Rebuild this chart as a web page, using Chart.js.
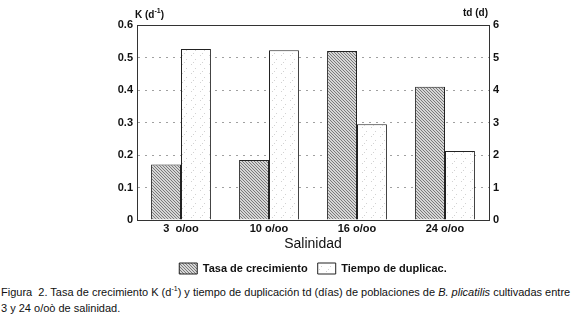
<!DOCTYPE html>
<html>
<head>
<meta charset="utf-8">
<script src="https://cdn.jsdelivr.net/npm/chart.js@4/dist/chart.umd.min.js"></script>
<style>
  body { margin: 0; background: #fff; width: 580px; height: 320px; position: relative; overflow: hidden; }
  #wrap { position: absolute; left: 0; top: 0; width: 580px; height: 284px; }
  #caption { position: absolute; left: 1px; top: 284px; width: 578px; font: 11px 'Liberation Sans', Arial, sans-serif; line-height: 16px; color: #111; white-space: nowrap; }
  #caption sup { font-size: 7px; line-height: 0; }
</style>
</head>
<body>
<div id="wrap"><canvas id="chart" width="580" height="284"></canvas></div>
<div id="caption">Figura&nbsp; 2. Tasa de crecimiento K (d<sup>-1</sup>) y tiempo de duplicación td (días) de poblaciones de <i>B. plicatilis</i> cultivadas entre<br>3 y 24 o/oò de salinidad.</div>
<script>
const salinities = ['3  o/oo', '10 o/oo', '16 o/oo', '24 o/oo'];
const growthRate = [0.171, 0.185, 0.52, 0.41];
const doublingTime = [5.26, 5.22, 2.95, 2.12];
const kTicks = ['0', '0.1', '0.2', '0.3', '0.4', '0.5', '0.6'];
const tdTicks = ['0', '1', '2', '3', '4', '5', '6'];

const FONT = "'Liberation Sans', Arial, sans-serif";

function hatchPattern() {
  const c = document.createElement('canvas');
  c.width = 3; c.height = 3;
  const g = c.getContext('2d');
  g.fillStyle = '#d6d6d6';
  g.fillRect(0, 0, 3, 3);
  g.fillStyle = '#7a7a7a';
  // one-pixel diagonal
  g.fillRect(0, 0, 1, 1);
  g.fillRect(1, 1, 1, 1);
  g.fillRect(2, 2, 1, 1);
  return g.createPattern(c, 'repeat');
}

function stipplePattern() {
  const c = document.createElement('canvas');
  c.width = 9; c.height = 9;
  const g = c.getContext('2d');
  g.fillStyle = '#fff';
  g.fillRect(0, 0, 9, 9);
  g.fillStyle = '#d2d2d2';
  g.fillRect(2, 1, 1, 1);
  g.fillRect(6, 5, 1, 1);
  g.fillRect(4, 8, 1, 1);
  return g.createPattern(c, 'repeat');
}

// top frame line and the two unit labels above the axes
const framePlugin = {
  id: 'frame',
  afterDraw(chart) {
    const ctx = chart.ctx;
    const a = chart.chartArea;
    ctx.save();
    ctx.strokeStyle = '#333';
    ctx.lineWidth = 1;
    ctx.beginPath();
    ctx.moveTo(a.left, a.top + 0.5);
    ctx.lineTo(a.right, a.top + 0.5);
    ctx.stroke();

    ctx.fillStyle = '#111';
    ctx.textBaseline = 'middle';
    ctx.font = 'bold 10px ' + FONT;
    let x = 135;
    ctx.fillText('K (d', x, 15);
    x += ctx.measureText('K (d').width;
    ctx.font = 'bold 7px ' + FONT;
    ctx.fillText('-1', x, 11);
    x += ctx.measureText('-1').width;
    ctx.font = 'bold 10px ' + FONT;
    ctx.fillText(')', x, 15);
    ctx.fillText('td (d)', 463, 13);
    ctx.restore();
  }
};

new Chart(document.getElementById('chart'), {
  type: 'bar',
  data: {
    labels: salinities,
    datasets: [
      {
        label: 'Tasa de crecimiento',
        data: growthRate,
        yAxisID: 'y',
        backgroundColor: hatchPattern(),
        borderColor: '#222',
        borderWidth: 1
      },
      {
        label: 'Tiempo de duplicac.',
        data: doublingTime,
        yAxisID: 'y1',
        backgroundColor: stipplePattern(),
        borderColor: '#222',
        borderWidth: 1
      }
    ]
  },
  options: {
    responsive: false,
    animation: false,
    layout: { padding: { top: 25, left: 0, right: 0, bottom: 0 } },
    datasets: { bar: { categoryPercentage: 0.68, barPercentage: 1 } },
    scales: {
      x: {
        grid: { display: false, drawTicks: false },
        border: { color: '#333' },
        ticks: { color: '#111', font: { family: FONT, size: 11, weight: 'bold' }, padding: 2 },
        title: { display: true, text: 'Salinidad', color: '#111', font: { family: FONT, size: 14 }, padding: { top: 0, bottom: 0 } },
        afterFit(s) { s.height = 33; }
      },
      y: {
        position: 'left',
        min: 0, max: 0.6,
        ticks: {
          stepSize: 0.1, color: '#111', padding: 4,
          font: { family: FONT, size: 11, weight: 'bold' },
          callback: (v, i) => kTicks[i]
        },
        grid: { color: '#a0a0a0', drawTicks: false },
        border: { color: '#333', dash: [2, 5] },
        afterFit(s) { s.width = 137; }
      },
      y1: {
        position: 'right',
        min: 0, max: 6,
        ticks: {
          stepSize: 1, color: '#111', padding: 4,
          font: { family: FONT, size: 11, weight: 'bold' },
          callback: (v, i) => tdTicks[i]
        },
        grid: { drawOnChartArea: false, drawTicks: false },
        border: { color: '#333' },
        afterFit(s) { s.width = 91; }
      }
    },
    plugins: {
      legend: {
        position: 'bottom',
        fullSize: false,
        maxHeight: 31,
        labels: {
          color: '#111',
          boxWidth: 18, boxHeight: 11,
          padding: 10,
          font: { family: FONT, size: 11, weight: 'bold' }
        }
      },
      tooltip: { enabled: false }
    }
  },
  plugins: [framePlugin]
});
</script>
</body>
</html>
